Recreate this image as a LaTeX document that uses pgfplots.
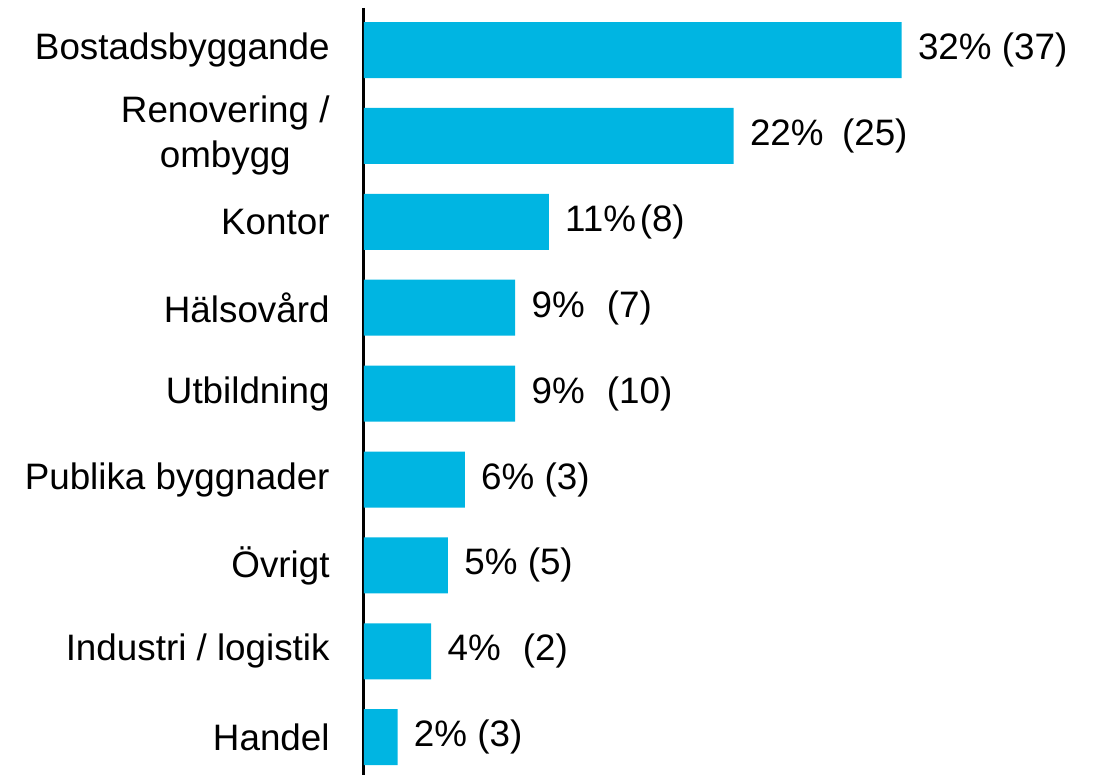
\documentclass[border=0pt]{standalone}
\usepackage{fontspec}
\setmainfont{Liberation Sans}
\usepackage{pgfplots}
\pgfplotsset{compat=1.18}
\definecolor{barblue}{HTML}{00B5E2}

\begin{document}
\begin{tikzpicture}
\useasboundingbox (-182pt,0pt) rectangle (366.5pt,387.5pt);
\begin{axis}[
    scale only axis,
    width=366.5pt,
    height=383.5pt,
    xbar,
    bar width=28pt,
    xmin=0, xmax=43.63,
    ymin=-0.49, ymax=8.44,
    y dir=reverse,
    axis x line=none,
    axis y line=left,
    axis line style={-, black, line width=1.5pt},
    ytick=data,
    yticklabels={Bostadsbyggande, {Renovering /\\ombygg}, Kontor, Hälsovård, Utbildning, Publika byggnader, Övrigt, Industri / logistik, Handel},
    major tick length=0pt,
    yticklabel style={align=center, anchor=east, inner sep=0pt, xshift=-17pt,
        font=\fontsize{18.4}{22.5}\selectfont},
    point meta=explicit symbolic,
    nodes near coords,
    every node near coord/.append style={anchor=west, inner sep=0pt, xshift=8pt,
        font=\fontsize{18.4}{22.5}\selectfont, text=black},
]
\addplot[fill=barblue, draw=none] coordinates {
    (32,0) [32\% (37)]
    (22,1) [22\%\hspace{0.5em}(25)]
    (11,2) [11\%\hspace{0.1em}(8)]
    (9,3) [9\%\hspace{0.6em}(7)]
    (9,4) [9\%\hspace{0.6em}(10)]
    (6,5) [6\% (3)]
    (5,6) [5\% (5)]
    (4,7) [4\%\hspace{0.6em}(2)]
    (2,8) [2\% (3)]
};
\end{axis}
\end{tikzpicture}
\end{document}
